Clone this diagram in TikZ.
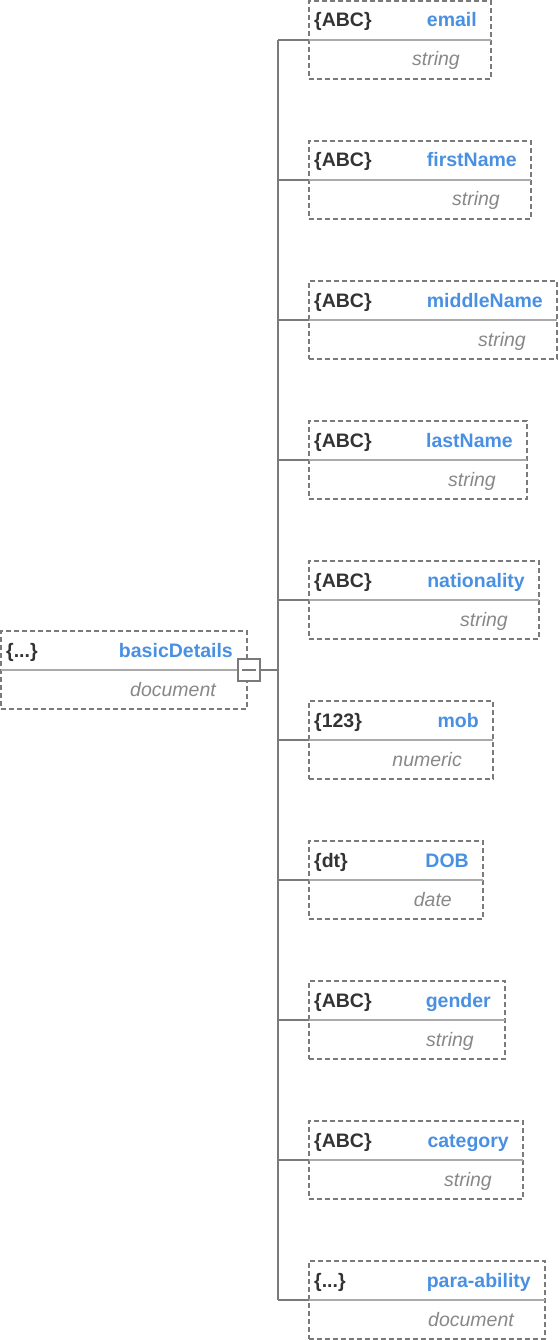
\documentclass[tikz,border=0pt]{standalone}
\usepackage{fontspec}
\setmainfont{Liberation Sans}
\usepackage{xcolor}
\usetikzlibrary{positioning}
\definecolor{keyblue}{HTML}{4A90E2}
\definecolor{typedark}{HTML}{333333}
\definecolor{kindgray}{HTML}{888888}
\definecolor{edgegray}{HTML}{7A7A7A}
\definecolor{rulegray}{HTML}{AAAAAA}
\tikzstyle{field} = [rectangle, minimum height=78pt, inner sep=0pt, outer sep=0pt, anchor=west, draw=edgegray, line width=1.5pt, dash pattern=on 5pt off 3pt]
\tikzstyle{typ} = [anchor=base west, inner sep=0pt, xshift=5pt, yshift=13pt, text=typedark, font=\fontsize{19.5}{22}\selectfont\bfseries]
\tikzstyle{nam} = [anchor=base east, inner sep=0pt, xshift=-14pt, yshift=13pt, text=keyblue, font=\fontsize{19.5}{22}\selectfont\bfseries]
\tikzstyle{kind} = [anchor=base east, inner sep=0pt, xshift=-31pt, yshift=-26pt, text=kindgray, font=\fontsize{19.5}{22}\selectfont\itshape]
\tikzstyle{rule} = [draw=rulegray, line width=1.5pt]
\tikzstyle{link} = [draw=edgegray, line width=1.8pt]

\begin{document}
\begin{tikzpicture}[node distance=62pt]
		\useasboundingbox (0,0) rectangle (558pt,-1340pt);
		% root
		\node (basic) [field, minimum width=246pt] at (1pt,-670pt) {};
		\draw [rule](basic.west) -- (basic.east);
		\node (basicT) [typ] at (basic.west) {\{...\}};
		\node (basicN) [nam] at (basic.east) {basicDetails};
		\node (basicK) [kind] at (basic.east) {document};
		% children
		\node (email) [field, minimum width=182pt] at (309pt,-40pt) {};
		\node (firstName) [field, minimum width=222pt, below=of email.south west, anchor=north west] {};
		\node (middleName) [field, minimum width=248pt, below=of firstName.south west, anchor=north west] {};
		\node (lastName) [field, minimum width=218pt, below=of middleName.south west, anchor=north west] {};
		\node (nationality) [field, minimum width=230pt, below=of lastName.south west, anchor=north west] {};
		\node (mob) [field, minimum width=184pt, below=of nationality.south west, anchor=north west] {};
		\node (DOB) [field, minimum width=174pt, below=of mob.south west, anchor=north west] {};
		\node (gender) [field, minimum width=196pt, below=of DOB.south west, anchor=north west] {};
		\node (category) [field, minimum width=214pt, below=of gender.south west, anchor=north west] {};
		\node (paraAbility) [field, minimum width=236pt, below=of category.south west, anchor=north west] {};
		\draw [rule](email.west) -- (email.east);
		\draw [rule](firstName.west) -- (firstName.east);
		\draw [rule](middleName.west) -- (middleName.east);
		\draw [rule](lastName.west) -- (lastName.east);
		\draw [rule](nationality.west) -- (nationality.east);
		\draw [rule](mob.west) -- (mob.east);
		\draw [rule](DOB.west) -- (DOB.east);
		\draw [rule](gender.west) -- (gender.east);
		\draw [rule](category.west) -- (category.east);
		\draw [rule](paraAbility.west) -- (paraAbility.east);
		\node (emailT) [typ] at (email.west) {\{ABC\}};
		\node (emailN) [nam] at (email.east) {email};
		\node (emailK) [kind] at (email.east) {string};
		\node (firstNameT) [typ] at (firstName.west) {\{ABC\}};
		\node (firstNameN) [nam] at (firstName.east) {firstName};
		\node (firstNameK) [kind] at (firstName.east) {string};
		\node (middleNameT) [typ] at (middleName.west) {\{ABC\}};
		\node (middleNameN) [nam] at (middleName.east) {middleName};
		\node (middleNameK) [kind] at (middleName.east) {string};
		\node (lastNameT) [typ] at (lastName.west) {\{ABC\}};
		\node (lastNameN) [nam] at (lastName.east) {lastName};
		\node (lastNameK) [kind] at (lastName.east) {string};
		\node (nationalityT) [typ] at (nationality.west) {\{ABC\}};
		\node (nationalityN) [nam] at (nationality.east) {nationality};
		\node (nationalityK) [kind] at (nationality.east) {string};
		\node (mobT) [typ] at (mob.west) {\{123\}};
		\node (mobN) [nam] at (mob.east) {mob};
		\node (mobK) [kind] at (mob.east) {numeric};
		\node (DOBT) [typ] at (DOB.west) {\{dt\}};
		\node (DOBN) [nam] at (DOB.east) {DOB};
		\node (DOBK) [kind] at (DOB.east) {date};
		\node (genderT) [typ] at (gender.west) {\{ABC\}};
		\node (genderN) [nam] at (gender.east) {gender};
		\node (genderK) [kind] at (gender.east) {string};
		\node (categoryT) [typ] at (category.west) {\{ABC\}};
		\node (categoryN) [nam] at (category.east) {category};
		\node (categoryK) [kind] at (category.east) {string};
		\node (paraAbilityT) [typ] at (paraAbility.west) {\{...\}};
		\node (paraAbilityN) [nam] at (paraAbility.east) {para-ability};
		\node (paraAbilityK) [kind] at (paraAbility.east) {document};
		% connectors
		\coordinate (hub) at (278pt,-670pt);
		\node (toggle) [draw=edgegray, line width=1.5pt, fill=white, minimum size=22pt, inner sep=0pt] at (249pt,-670pt) {};
		\draw [line width=1.5pt, draw=edgegray]([xshift=-7pt]toggle.center) -- ([xshift=7pt]toggle.center);
		\draw [link](toggle.east) -- (hub);
		\draw [link](hub |- email.west) -- (hub |- paraAbility.west);
		\draw [link](hub |- email.west) -- (email.west);
		\draw [link](hub |- firstName.west) -- (firstName.west);
		\draw [link](hub |- middleName.west) -- (middleName.west);
		\draw [link](hub |- lastName.west) -- (lastName.west);
		\draw [link](hub |- nationality.west) -- (nationality.west);
		\draw [link](hub |- mob.west) -- (mob.west);
		\draw [link](hub |- DOB.west) -- (DOB.west);
		\draw [link](hub |- gender.west) -- (gender.west);
		\draw [link](hub |- category.west) -- (category.west);
		\draw [link](hub |- paraAbility.west) -- (paraAbility.west);
	\end{tikzpicture}
\end{document}
